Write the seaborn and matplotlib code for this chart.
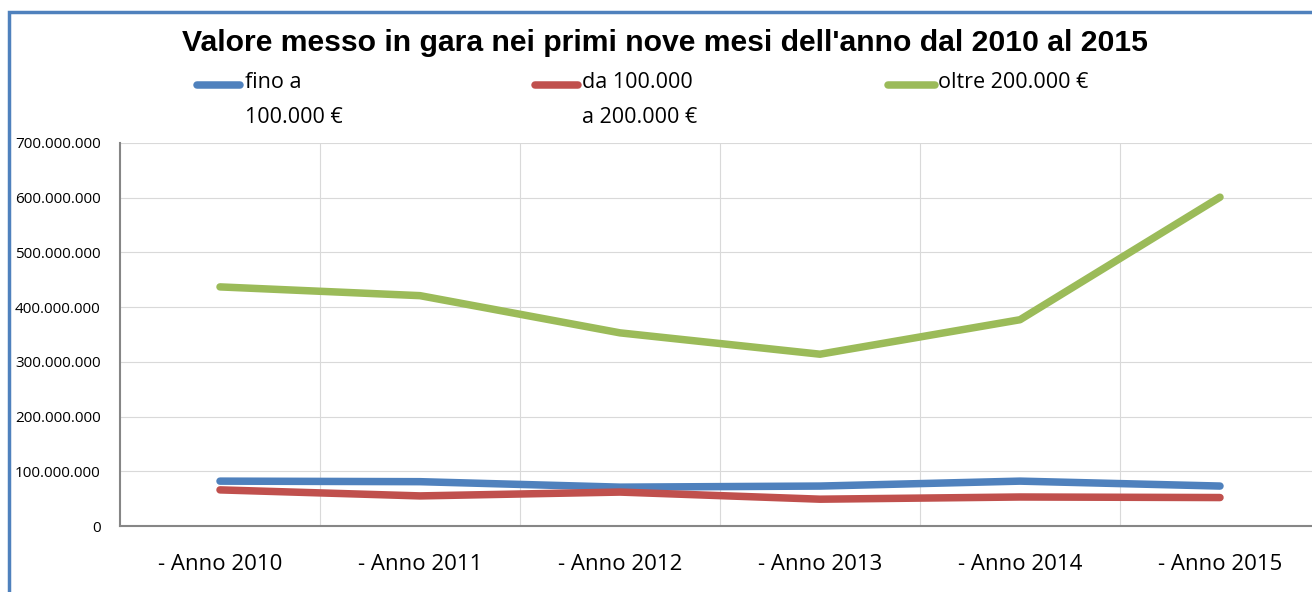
import matplotlib
matplotlib.use("Agg")
import matplotlib.pyplot as plt
import matplotlib.ticker as mticker
from matplotlib.lines import Line2D
from matplotlib.patches import Rectangle
from matplotlib import font_manager
import seaborn as sns
import pandas as pd

categories = ["- Anno 2010", "- Anno 2011", "- Anno 2012", "- Anno 2013", "- Anno 2014", "- Anno 2015"]
fino_100k = [82e6, 81e6, 71e6, 73e6, 82e6, 73e6]
da_100k_200k = [66e6, 55e6, 62e6, 49e6, 53e6, 52e6]
oltre_200k = [437e6, 421e6, 353e6, 314e6, 377e6, 601e6]
series_names = ["fino a\n100.000 €", "da 100.000\na 200.000 €", "oltre 200.000 €"]
colors = ["#4F81BD", "#C0504D", "#9BBB59"]
title = "Valore messo in gara nei primi nove mesi dell'anno dal 2010 al 2015"

rows = []
for name, vals in zip(series_names, [fino_100k, da_100k_200k, oltre_200k]):
    for c, v in zip(categories, vals):
        rows.append({"cat": c, "val": v, "serie": name})
df = pd.DataFrame(rows)

sns.set_theme(style="white")
plt.rcParams["font.family"] = ["Open Sans", "DejaVu Sans"]
plt.rcParams["text.color"] = "black"

title_font = None
for f in font_manager.fontManager.ttflist:
    if f.name == "Liberation Sans" and f.weight in (700, "bold") and f.style == "normal" \
            and "Narrow" not in f.fname:
        title_font = font_manager.FontProperties(fname=f.fname)
        break
if title_font is None:
    title_font = font_manager.FontProperties(family="DejaVu Sans", weight="bold")
title_font.set_size(21.7)

W, H = 1312, 592
fig = plt.figure(figsize=(W / 100, H / 100), dpi=100)
fig.patch.set_facecolor("white")

fig.add_artist(Rectangle((9 / W, -0.1), 1.2, (H - 12) / H + 0.1, transform=fig.transFigure,
                         fill=False, edgecolor="#4F81BD", linewidth=2.5))

ax = fig.add_axes([120 / W, (H - 526) / H, 1200 / W, 383 / H])
sns.lineplot(data=df, x="cat", y="val", hue="serie", palette=colors, ax=ax,
             linewidth=5.4, legend=False, sort=False)
for ln in ax.get_lines():
    ln.set_solid_capstyle("round")
    ln.set_solid_joinstyle("round")

ax.set_xlim(-0.5, 5.5)
ax.set_ylim(0, 700e6)
ax.set_yticks([i * 100e6 for i in range(8)])
ax.yaxis.set_major_formatter(mticker.FuncFormatter(lambda v, p: f"{int(round(v)):,}".replace(",", ".")))
ax.set_xticks(range(6))
ax.set_xticklabels(categories)
ax.set_xticks([i + 0.5 for i in range(5)], minor=True)
ax.grid(False)
ax.yaxis.grid(True, color="#D9D9D9", linewidth=0.8)
ax.xaxis.grid(True, which="minor", color="#D9D9D9", linewidth=0.8)
ax.set_axisbelow(True)
ax.set_xlabel("")
ax.set_ylabel("")
for s in ["top", "right"]:
    ax.spines[s].set_visible(False)
for s in ["left", "bottom"]:
    ax.spines[s].set_color("#868686")
    ax.spines[s].set_linewidth(1.5)
ax.tick_params(axis="y", labelsize=11, length=0, pad=14, labelcolor="black")
ax.tick_params(axis="x", which="major", labelsize=16, length=0, pad=20, labelcolor="black")
ax.tick_params(axis="x", which="minor", length=0)

fig.text(665 / W, 1 - 43 / H, title, ha="center", va="center", fontproperties=title_font, color="black")

leg = [(197, 240, 245), (535, 578, 582), (888, 935, 938)]
for (x0, x1, tx), name, col in zip(leg, series_names, colors):
    fig.add_artist(Line2D([x0 / W, x1 / W], [1 - 85 / H, 1 - 85 / H], transform=fig.transFigure,
                          color=col, linewidth=5.4, solid_capstyle="round"))
    fig.text(tx / W, 1 - 72 / H, name, ha="left", va="top", fontsize=15.5, linespacing=1.9,
             color="black")

fig.savefig("out.png", dpi=100)
